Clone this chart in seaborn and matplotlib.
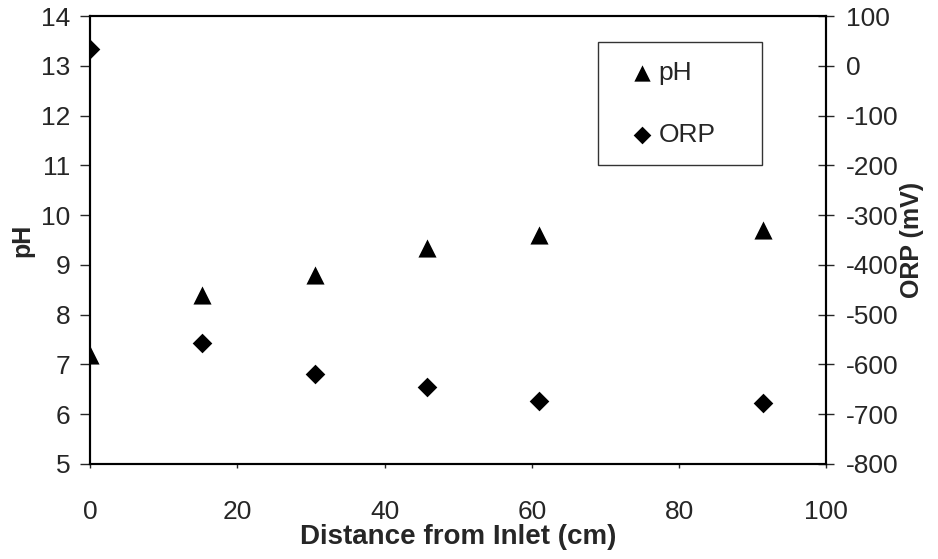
import numpy as np
import pandas as pd
import seaborn as sns
import matplotlib.pyplot as plt

distance = [0, 15.2, 30.5, 45.7, 61.0, 91.4]
ph = [7.2, 8.4, 8.8, 9.35, 9.6, 9.7]
orp = [35, -557, -619, -645, -673, -677]

sns.set_style('white')
plt.rcParams['font.family'] = ['Liberation Sans', 'DejaVu Sans']
plt.rcParams['axes.unicode_minus'] = False

fig = plt.figure(figsize=(9.38, 5.59), dpi=100)
ax = fig.add_axes([0.096, 0.170, 0.785, 0.801])
ax2 = ax.twinx()

sns.scatterplot(x=distance, y=ph, marker='^', color='black', s=170,
                edgecolor='black', linewidth=0, ax=ax, label='pH', legend=False)
sns.scatterplot(x=distance, y=orp, marker='D', color='black', s=100,
                edgecolor='black', linewidth=0, ax=ax2, label='ORP', legend=False)

ax.set_xlim(0, 100)
ax.set_ylim(5, 14)
ax2.set_ylim(-800, 100)
ax.set_xticks(range(0, 101, 20))
ax.set_yticks(range(5, 15))
ax2.set_yticks(range(-800, 101, 100))

for a in (ax, ax2):
    for sp in a.spines.values():
        sp.set_color('black')
        sp.set_linewidth(1.5)
        sp.set_visible(True)

ax.tick_params(axis='x', direction='out', length=3, width=1, pad=23,
               labelsize=19, bottom=True)
ax.tick_params(axis='y', direction='out', length=7, width=1, pad=7,
               labelsize=19, left=True)
ax2.tick_params(axis='y', direction='inout', length=12, width=1, pad=8,
                labelsize=19, right=True)

ax.set_xlabel('Distance from Inlet (cm)', fontsize=20, fontweight='bold', labelpad=0)
ax.set_ylabel('pH', fontsize=18, fontweight='bold', labelpad=5)
ax2.set_ylabel('ORP (mV)', fontsize=18, fontweight='bold', labelpad=1)

h1, l1 = ax.get_legend_handles_labels()
h2, l2 = ax2.get_legend_handles_labels()
leg = ax2.legend(h1 + h2, l1 + l2, loc='upper left',
                 bbox_to_anchor=(0.69, 0.663, 0.222, 0.279), mode='expand',
                 fontsize=19, frameon=True,
                 fancybox=False, edgecolor='black', handletextpad=-0.3,
                 labelspacing=1.45, borderpad=0.7, handlelength=1.9,
                 borderaxespad=0, markerscale=0.9)
leg.get_frame().set_linewidth(1)

fig.savefig('out.png', dpi=100)
